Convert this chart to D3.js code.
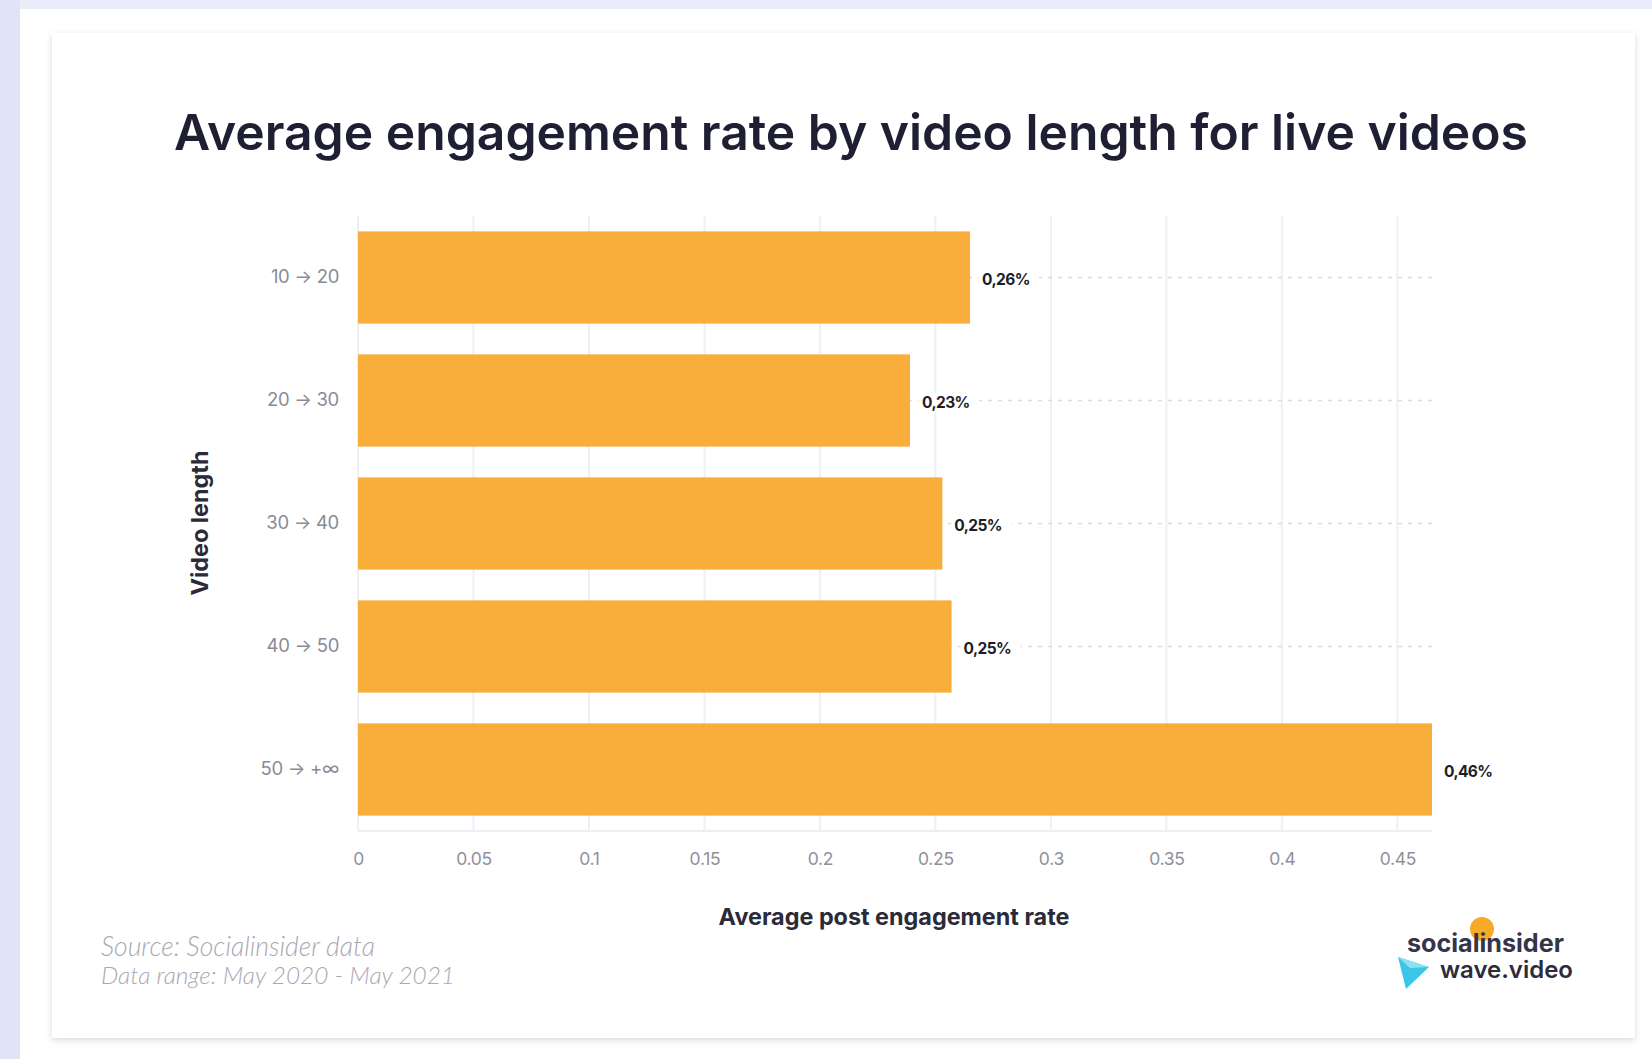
<!DOCTYPE html>
<html>
<head>
<meta charset="utf-8">
<script src="https://cdn.jsdelivr.net/npm/d3@7"></script>
<style>
  html, body { margin: 0; padding: 0; background: #ffffff; }
  svg { display: block; }
</style>
</head>
<body>
<svg id="chart" width="1652" height="1059"></svg>
<script>
// ---- data ----
const categories = ["10 → 20", "20 → 30", "30 → 40", "40 → 50", "50 → +∞"];
const values = [0.265, 0.239, 0.253, 0.257, 0.465];
const valueLabels = ["0,26%", "0,23%", "0,25%", "0,25%", "0,46%"];
const xTickValues = [0, 0.05, 0.1, 0.15, 0.2, 0.25, 0.3, 0.35, 0.4, 0.45];
const xTickLabels = ["0", "0.05", "0.1", "0.15", "0.2", "0.25", "0.3", "0.35", "0.4", "0.45"];
const titleText = "Average engagement rate by video length for live videos";
const xTitle = "Average post engagement rate";
const yTitle = "Video length";
const footer = ["Source: Socialinsider data", "Data range: May 2020 - May 2021"];

const svg = d3.select("#chart");
const W = 1652, H = 1059;

// fit text to target width by adjusting font-size
function fitWidth(sel, target) {
  const node = sel.node();
  const fs = parseFloat(sel.attr("font-size"));
  const w = node.getComputedTextLength();
  if (w > 0) sel.attr("font-size", (fs * target / w).toFixed(2));
  return sel;
}

// defs
const defs = svg.append("defs");
const f = defs.append("filter").attr("id", "shadow").attr("x", "-5%").attr("y", "-5%").attr("width", "110%").attr("height", "110%");
f.append("feDropShadow").attr("dx", 0).attr("dy", 2).attr("stdDeviation", 3).attr("flood-color", "#8890a8").attr("flood-opacity", 0.35);

// page background
svg.append("rect").attr("x", 0).attr("y", 0).attr("width", W).attr("height", H).attr("fill", "#ffffff");
svg.append("rect").attr("x", 0).attr("y", 0).attr("width", W).attr("height", 9).attr("fill", "#eaedf9");
svg.append("rect").attr("x", 0).attr("y", 0).attr("width", 20).attr("height", H).attr("fill", "#e1e4f6");

// card
svg.append("rect").attr("x", 52).attr("y", 33).attr("width", 1583).attr("height", 1005)
  .attr("fill", "#ffffff").attr("filter", "url(#shadow)");

// title
const title = svg.append("text").attr("x", 851).attr("y", 150).attr("text-anchor", "middle")
  .attr("font-family", "Inter, 'Open Sans', sans-serif").attr("font-weight", 600)
  .attr("font-size", 44).attr("fill", "#1f1f33").text(titleText);
fitWidth(title, 1354);

// scales
const plot = { left: 358, right: 1432, top: 216, bottom: 831 };
const x = d3.scaleLinear().domain([0, d3.max(values)]).range([plot.left, plot.right]);
const y = d3.scaleBand().domain(categories).range([plot.top, plot.bottom])
  .paddingInner(0.25).paddingOuter(0.125);

const g = svg.append("g");

// vertical gridlines
g.selectAll("line.vgrid").data(xTickValues).join("line")
  .attr("class", "vgrid")
  .attr("x1", d => x(d)).attr("x2", d => x(d))
  .attr("y1", plot.top).attr("y2", plot.bottom)
  .attr("stroke", "#eef0f6").attr("stroke-width", 2);

// bottom baseline
g.append("line").attr("x1", plot.left).attr("x2", plot.right)
  .attr("y1", plot.bottom).attr("y2", plot.bottom)
  .attr("stroke", "#eceef5").attr("stroke-width", 2);

// horizontal dashed lines at category centers
g.selectAll("line.hgrid").data(categories).join("line")
  .attr("class", "hgrid")
  .attr("x1", plot.left).attr("x2", plot.right)
  .attr("y1", d => y(d) + y.bandwidth() / 2).attr("y2", d => y(d) + y.bandwidth() / 2)
  .attr("stroke", "#d9dce4").attr("stroke-width", 1.5).attr("stroke-dasharray", "4,6");

// bars
const data = categories.map((c, i) => ({ c, v: values[i], label: valueLabels[i] }));
g.selectAll("rect.bar").data(data).join("rect")
  .attr("class", "bar")
  .attr("x", x(0)).attr("y", d => y(d.c))
  .attr("width", d => x(d.v) - x(0)).attr("height", y.bandwidth())
  .attr("fill", "#f9ad3b");

// value labels with white backing
const lbl = g.selectAll("g.vl").data(data).join("g").attr("class", "vl")
  .attr("transform", d => `translate(${x(d.v) + 12},${y(d.c) + y.bandwidth() / 2 + 2})`);
lbl.append("rect").attr("x", -3).attr("y", -9).attr("width", 60).attr("height", 18).attr("fill", "#ffffff");
lbl.append("text").attr("dy", "0.35em")
  .attr("font-family", "Inter, 'Open Sans', sans-serif").attr("font-weight", 700)
  .attr("font-size", 15.5).attr("letter-spacing", -0.6).attr("fill", "#1e1e28")
  .text(d => d.label);

// x axis
const xAxis = d3.axisBottom(x).tickValues(xTickValues)
  .tickFormat((d, i) => xTickLabels[i]).tickSize(0).tickPadding(0);
const xa = svg.append("g").attr("transform", `translate(0,${plot.bottom + 28})`).call(xAxis);
xa.select(".domain").remove();
xa.selectAll("text").attr("font-family", "Inter, 'Open Sans', sans-serif").attr("font-size", 17.5)
  .attr("fill", "#8f909c").attr("dy", "0.35em").attr("letter-spacing", -0.3);

// y axis
const yAxis = d3.axisLeft(y).tickSize(0).tickPadding(19);
const ya = svg.append("g").attr("transform", `translate(${plot.left},0)`).call(yAxis);
ya.select(".domain").remove();
ya.selectAll("text").attr("font-family", "Inter, 'Open Sans', sans-serif").attr("font-size", 18.5)
  .attr("fill", "#8a8b97").attr("letter-spacing", -0.3);

// axis titles
const xt = svg.append("text").attr("x", 894).attr("y", 917).attr("dy", "0.35em").attr("text-anchor", "middle")
  .attr("font-family", "Inter, 'Open Sans', sans-serif").attr("font-weight", 700).attr("font-size", 19)
  .attr("fill", "#2a2a38").text(xTitle);
fitWidth(xt, 351);

const yt = svg.append("text").attr("transform", "translate(200,523) rotate(-90)").attr("dy", "0.35em")
  .attr("text-anchor", "middle")
  .attr("font-family", "Inter, 'Open Sans', sans-serif").attr("font-weight", 700).attr("font-size", 19)
  .attr("fill", "#2a2a38").text(yTitle);
fitWidth(yt, 145);

// footer
const f1 = svg.append("text").attr("x", 101).attr("y", 947).attr("dy", "0.35em")
  .attr("font-family", "Lato, 'Open Sans', sans-serif").attr("font-style", "italic").attr("font-weight", 300)
  .attr("font-size", 19).attr("fill", "#a8a9b2").text(footer[0]);
fitWidth(f1, 274);
const f2 = svg.append("text").attr("x", 101).attr("y", 975).attr("dy", "0.35em")
  .attr("font-family", "Lato, 'Open Sans', sans-serif").attr("font-style", "italic").attr("font-weight", 300)
  .attr("font-size", 19).attr("fill", "#a8a9b2").text(footer[1]);
fitWidth(f2, 354);

// logo
const logo = svg.append("g");
logo.append("circle").attr("cx", 1482).attr("cy", 929).attr("r", 12).attr("fill", "#f7a928");
const s1 = logo.append("text").attr("x", 1407).attr("y", 943).attr("dy", "0.35em")
  .attr("font-family", "Inter, 'Open Sans', sans-serif").attr("font-weight", 700).attr("font-size", 22)
  .attr("fill", "#34344a").text("socialinsider");
fitWidth(s1, 157);
const s2 = logo.append("text").attr("x", 1440).attr("y", 970).attr("dy", "0.35em")
  .attr("font-family", "Inter, 'Open Sans', sans-serif").attr("font-weight", 600).attr("font-size", 22)
  .attr("fill", "#2c2c3a").text("wave.video");
fitWidth(s2, 133);
logo.append("path").attr("d", "M1398,957 L1429,967 L1406,989 Z").attr("fill", "#3cc6e6");
logo.append("path").attr("d", "M1398,957 L1429,967 L1410,968 Z").attr("fill", "#8fe0f2");
</script>
</body>
</html>
